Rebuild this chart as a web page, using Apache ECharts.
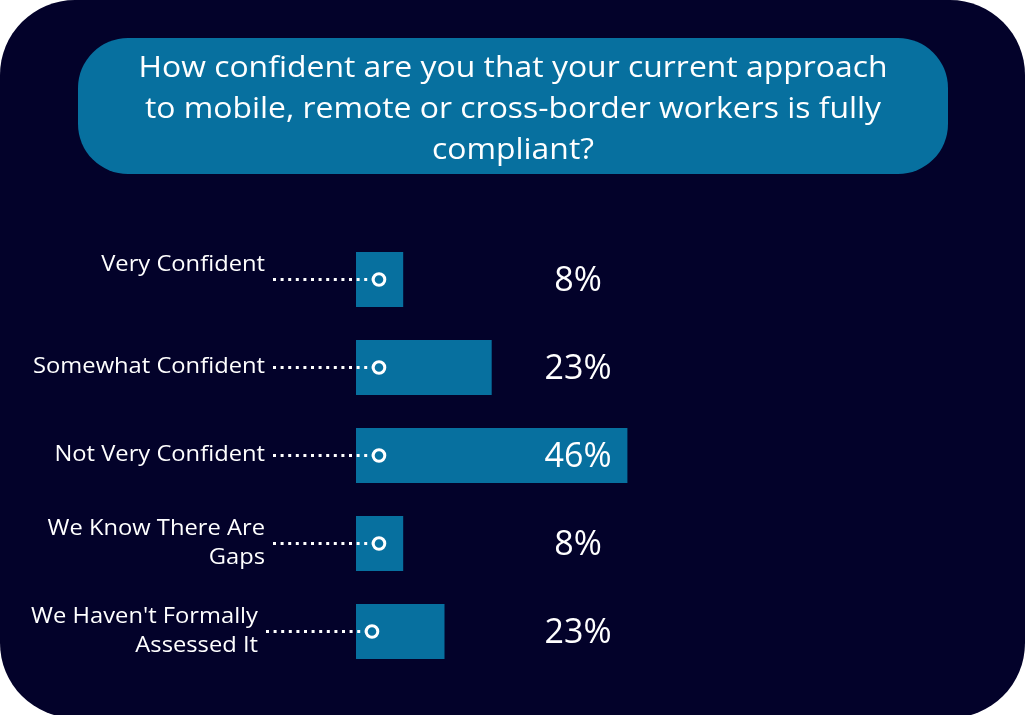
<!DOCTYPE html>
<html>
<head>
<meta charset="utf-8">
<script src="https://cdn.jsdelivr.net/npm/echarts@6/dist/echarts.min.js"></script>
<style>
html,body{margin:0;padding:0;background:#ffffff;}
#chart{width:1029px;height:715px;}
</style>
</head>
<body>
<div id="chart"></div>
<script>
const titleText = 'How confident are you that your current approach\nto mobile, remote or cross-border workers is fully\ncompliant?';
const categories = ['Very Confident', 'Somewhat Confident', 'Not Very Confident', 'We Know There Are\nGaps', "We Haven't Formally\nAssessed It"];
const barValues = [8, 23, 46, 8, 15];
const valueLabels = ['8%', '23%', '46%', '8%', '23%'];

const FONT = 'Open Sans';
const BAR_COLOR = '#07709f';
const BG = '#03022a';

const chart = echarts.init(document.getElementById('chart'), null, {renderer: 'canvas'});

const option = {
  backgroundColor: '#ffffff',
  animation: false,
  graphic: [
    {type: 'rect', z: -10, shape: {x: 0, y: 0, width: 1025, height: 718, r: 75}, style: {fill: BG}},
    {type: 'rect', z: -9, shape: {x: 78, y: 38, width: 870, height: 136, r: 50}, style: {fill: BAR_COLOR}},
    {type: 'text', z: -8, x: 513, y: 110, scaleX: 1.1, style: {text: titleText, fill: '#ffffff', fontFamily: FONT, fontSize: 29, align: 'center', verticalAlign: 'middle', lineHeight: 41}}
  ],
  grid: {left: 356, right: 83, top: 235.5, height: 440, containLabel: false},
  xAxis: {type: 'value', min: 0, max: 100, show: false},
  yAxis: {
    type: 'category', inverse: true, data: categories,
    axisLine: {show: false}, axisTick: {show: false}, splitLine: {show: false},
    axisLabel: {show: false}
  },
  series: [
    {type: 'bar', data: barValues, barWidth: 55, itemStyle: {color: BAR_COLOR}, z: 2},
    {
      type: 'custom', z: 3,
      data: barValues.map(function (v, i) { return [0, i]; }),
      renderItem: function (params, api) {
        const i = api.value(1);
        const c = api.coord([0, i]);
        const shift = i === 4 ? -7 : 0;
        const x0 = c[0] + shift, y = c[1];
        return {
          type: 'group',
          children: [
            {type: 'line', shape: {x1: x0 - 83, y1: y, x2: x0 + 17, y2: y}, style: {stroke: '#ffffff', lineWidth: 3, lineDash: [3, 4.6]}},
            {type: 'circle', shape: {cx: x0 + 23, cy: y, r: 5.8}, style: {fill: BAR_COLOR, stroke: '#ffffff', lineWidth: 3}},
            {type: 'text', x: x0 - 91, y: y + (i === 0 ? -14 : 0), scaleX: 1.13, style: {text: categories[i], fill: '#ffffff', fontFamily: FONT, fontSize: 21, lineHeight: 29, align: 'right', verticalAlign: 'middle'}},
            {type: 'text', x: c[0] + 222, y: y + 2, style: {text: valueLabels[i], fill: '#ffffff', fontFamily: FONT, fontSize: 34, align: 'center', verticalAlign: 'middle'}}
          ]
        };
      }
    }
  ]
};
chart.setOption(option);
</script>
</body>
</html>
